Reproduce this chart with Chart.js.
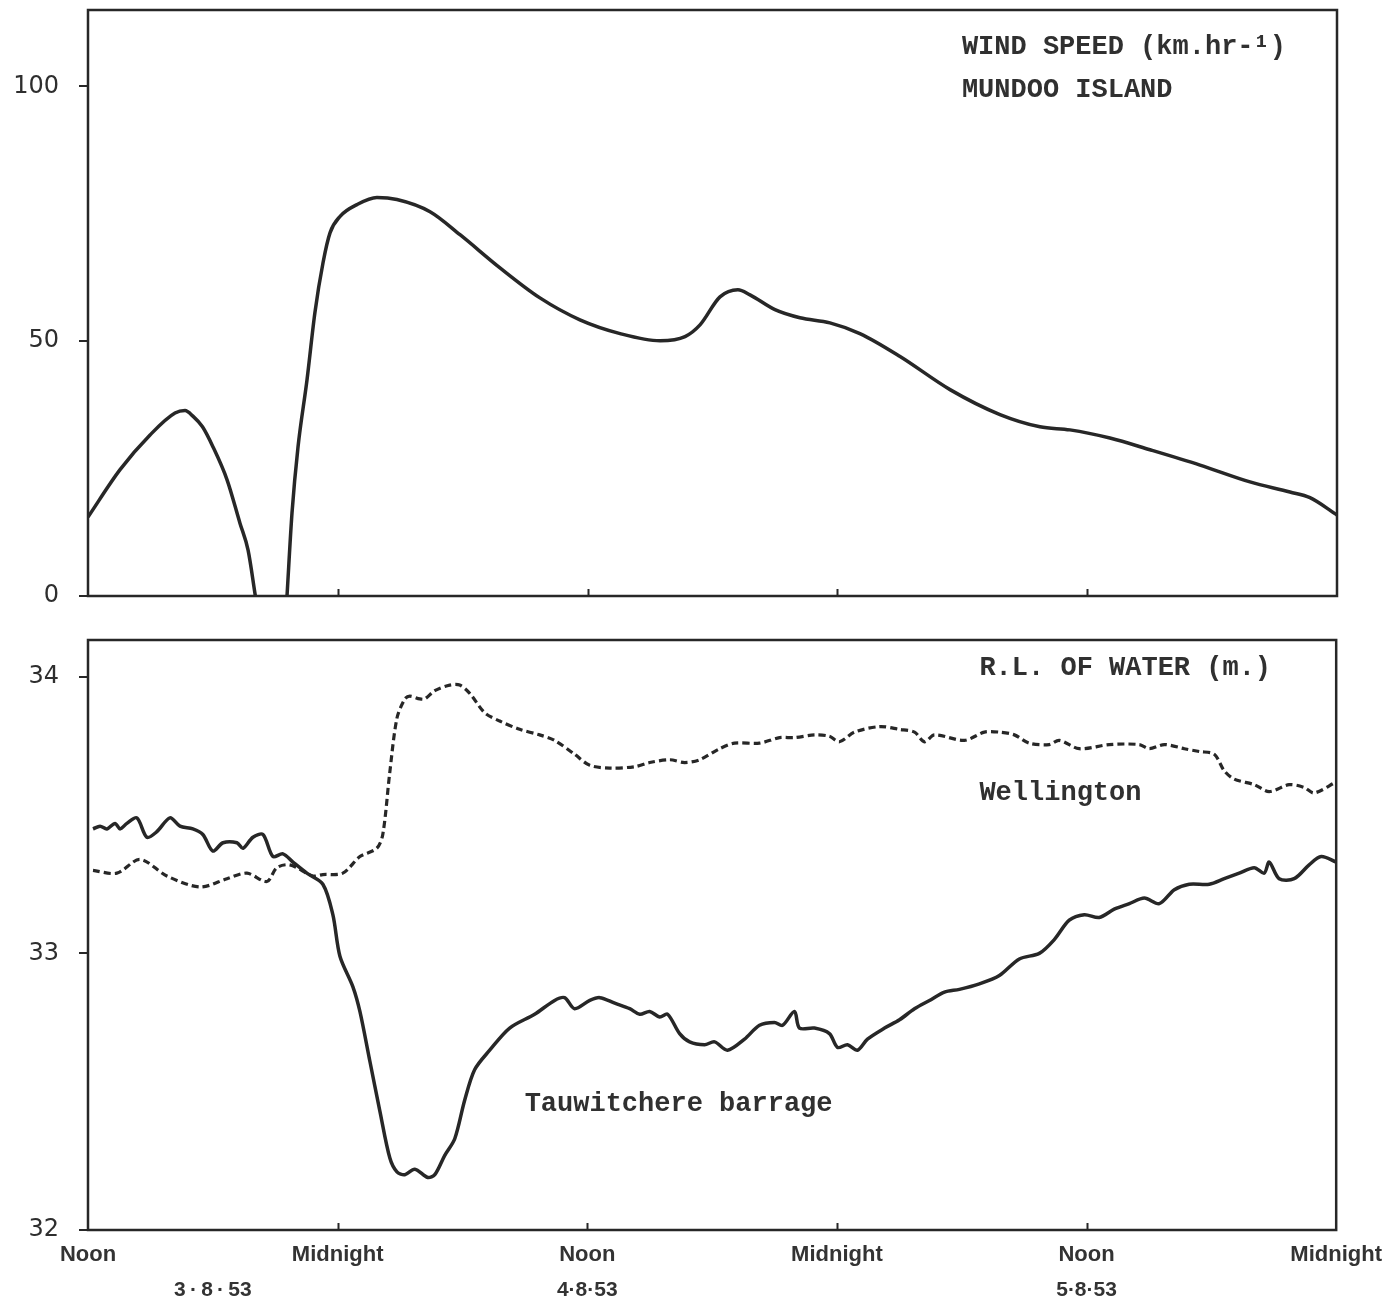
<!DOCTYPE html>
<html>
<head>
<meta charset="utf-8">
<title>Wind speed and water levels, 3–5 August 1953</title>
<script src="https://cdn.jsdelivr.net/npm/chart.js@4.4.1/dist/chart.umd.min.js"></script>
<style>
  html, body { margin: 0; padding: 0; background: #ffffff; }
  #wrap { position: relative; width: 1394px; height: 1304px; }
  canvas { position: absolute; left: 0; }
  #windCanvas { top: 0; }
  #levelCanvas { top: 620px; }
</style>
</head>
<body>
<div id="wrap">
  <canvas id="windCanvas" width="1394" height="620"></canvas>
  <canvas id="levelCanvas" width="1394" height="684"></canvas>
</div>
<script>
// Hours elapsed since noon on 3 August 1953
const timeTickHours = [0, 12, 24, 36, 48, 60];
const timeTickLabels = ['Noon', 'Midnight', 'Noon', 'Midnight', 'Noon', 'Midnight'];
const dateTickHours = [6, 24, 48];
const dateTickLabels = ['3\u2009·\u20098\u2009·\u200953', '4·8·53', '5·8·53'];

// Wind speed at Mundoo Island (km/hr); null marks the calm spell
const windHours = [0.0, 1.54, 2.98, 4.18, 4.66, 5.04, 5.50, 6.00, 6.68, 7.30, 7.69, 8.04, 8.8, 9.56, 9.80, 10.09, 10.52, 10.90, 11.29, 11.63, 12.11, 12.92, 13.88, 14.84, 16.43, 17.87, 19.79, 21.71, 23.63, 25.56, 27.48, 28.68, 29.40, 30.36, 31.22, 31.80, 33.00, 34.20, 35.64, 37.08, 39.01, 41.41, 43.81, 45.73, 47.17, 49.09, 51.02, 53.42, 55.82, 57.74, 58.70, 60.0];
const windSpeed = [15.5, 24.8, 31.6, 35.9, 36.4, 35.3, 33.2, 29.3, 22.8, 14.3, 9.0, 0, null, 0, 16.3, 29.3, 42.4, 55.6, 65.4, 71.3, 74.5, 76.8, 78.2, 77.8, 75.4, 70.9, 64.4, 58.5, 54.2, 51.5, 50.1, 50.9, 53.2, 58.7, 60.1, 59.1, 56.2, 54.6, 53.6, 51.5, 47.0, 40.5, 35.6, 33.2, 32.6, 31.0, 28.7, 25.7, 22.4, 20.4, 19.3, 15.9];
const windTicks = [0, 50, 100];

// Reduced level of water (m) at Tauwitchere barrage
const tauHours = [0.24, 0.58, 0.91, 1.30, 1.54, 1.87, 2.35, 2.83, 3.31, 3.94, 4.42, 5.04, 5.52, 6.00, 6.49, 7.16, 7.45, 7.93, 8.41, 8.89, 9.37, 9.85, 10.52, 11.29, 11.77, 12.11, 12.73, 13.07, 13.55, 14.03, 14.51, 14.85, 15.23, 15.71, 16.33, 16.67, 17.15, 17.63, 18.11, 18.59, 19.31, 20.27, 21.47, 22.43, 22.91, 23.39, 24.12, 24.60, 25.32, 26.04, 26.52, 27.00, 27.48, 27.86, 28.44, 28.92, 29.64, 30.12, 30.74, 31.56, 32.28, 33.00, 33.39, 33.96, 34.20, 34.92, 35.64, 36.03, 36.51, 36.99, 37.47, 38.29, 39.01, 39.73, 40.45, 41.17, 41.89, 42.85, 43.81, 44.77, 45.73, 46.45, 47.17, 47.89, 48.61, 49.33, 50.06, 50.78, 51.50, 52.22, 52.94, 53.90, 54.62, 55.34, 56.06, 56.54, 56.78, 57.26, 57.98, 58.70, 59.28, 60.00];
const tauLevel = [33.45, 33.46, 33.45, 33.47, 33.45, 33.47, 33.49, 33.42, 33.44, 33.49, 33.46, 33.45, 33.43, 33.37, 33.40, 33.40, 33.38, 33.42, 33.43, 33.35, 33.36, 33.33, 33.29, 33.25, 33.14, 32.99, 32.88, 32.79, 32.61, 32.43, 32.26, 32.21, 32.20, 32.22, 32.19, 32.20, 32.27, 32.33, 32.47, 32.58, 32.65, 32.73, 32.78, 32.83, 32.84, 32.80, 32.83, 32.84, 32.82, 32.80, 32.78, 32.79, 32.77, 32.78, 32.71, 32.68, 32.67, 32.68, 32.65, 32.69, 32.74, 32.75, 32.74, 32.79, 32.73, 32.73, 32.71, 32.66, 32.67, 32.65, 32.69, 32.73, 32.76, 32.80, 32.83, 32.86, 32.87, 32.89, 32.92, 32.98, 33.00, 33.05, 33.12, 33.14, 33.13, 33.16, 33.18, 33.20, 33.18, 33.23, 33.25, 33.25, 33.27, 33.29, 33.31, 33.29, 33.33, 33.27, 33.27, 33.32, 33.35, 33.33];

// Reduced level of water (m) at Wellington
const wellHours = [0.24, 1.39, 2.50, 3.79, 5.38, 6.68, 7.64, 8.60, 9.08, 9.70, 10.81, 11.29, 12.25, 13.07, 13.88, 14.17, 14.50, 14.85, 15.23, 15.47, 15.95, 16.19, 16.67, 17.39, 17.87, 18.35, 19.07, 19.79, 20.75, 21.71, 22.43, 23.39, 24.12, 25.08, 26.28, 27.00, 27.96, 28.68, 29.40, 30.36, 31.08, 32.28, 33.24, 33.96, 34.92, 35.64, 36.12, 36.85, 38.05, 39.01, 39.73, 40.21, 40.69, 42.13, 43.09, 43.81, 44.53, 45.25, 46.21, 46.69, 47.65, 49.09, 50.53, 51.02, 51.74, 52.70, 53.42, 54.14, 54.62, 55.10, 56.06, 56.78, 57.74, 58.46, 58.94, 60.00];
const wellLevel = [33.30, 33.29, 33.34, 33.28, 33.24, 33.27, 33.29, 33.26, 33.31, 33.32, 33.28, 33.285, 33.29, 33.35, 33.38, 33.43, 33.65, 33.85, 33.92, 33.93, 33.92, 33.92, 33.95, 33.97, 33.97, 33.94, 33.87, 33.84, 33.81, 33.79, 33.77, 33.72, 33.68, 33.67, 33.675, 33.69, 33.70, 33.69, 33.70, 33.74, 33.76, 33.76, 33.78, 33.78, 33.79, 33.785, 33.765, 33.80, 33.82, 33.81, 33.80, 33.765, 33.79, 33.77, 33.80, 33.80, 33.79, 33.76, 33.755, 33.77, 33.74, 33.755, 33.755, 33.74, 33.755, 33.74, 33.73, 33.72, 33.66, 33.63, 33.61, 33.585, 33.61, 33.60, 33.58, 33.62];
const levelTicks = [32, 33, 34];

const INK = '#272727';
const TYPE_FONT = 'bold 27px "Liberation Mono", "DejaVu Sans Mono", monospace';
const pairs = (xs, ys) => xs.map((x, i) => ({ x: x, y: ys[i] }));

// Draws the boxed frame, the small inward hour ticks and the typed captions
const framePlugin = {
  id: 'frame',
  afterDatasetsDraw(chart, args, opts) {
    const { ctx, chartArea: a, scales } = chart;
    ctx.save();
    ctx.strokeStyle = INK;
    ctx.lineWidth = 2.5;
    ctx.strokeRect(a.left, a.top, a.right - a.left, a.bottom - a.top);
    ctx.lineWidth = 2;
    ctx.beginPath();
    timeTickHours.slice(1, -1).forEach(h => {
      const px = Math.round(scales.x.getPixelForValue(h)) + 0.5;
      ctx.moveTo(px, a.bottom);
      ctx.lineTo(px, a.bottom - 7);
    });
    ctx.stroke();
    ctx.fillStyle = '#303030';
    ctx.font = TYPE_FONT;
    ctx.textAlign = 'left';
    ctx.textBaseline = 'middle';
    (opts.notes || []).forEach(n => {
      ctx.fillText(n.text, scales.x.getPixelForValue(n.x), scales.y.getPixelForValue(n.y));
    });
    ctx.restore();
  }
};

function yAxis(min, max, ticks) {
  return {
    type: 'linear',
    min: min,
    max: max,
    afterBuildTicks: s => { s.ticks = ticks.map(v => ({ value: v })); },
    // fixed axis width; tick labels may overhang the plot edges freely
    afterFit: s => { s.width = 88; s.paddingTop = 0; s.paddingBottom = 0; },
    border: { display: false },
    grid: { display: true, drawOnChartArea: false, drawTicks: true, tickLength: 9, color: INK, lineWidth: 2 },
    ticks: {
      padding: 20,
      color: '#2e2e2e',
      font: { family: '"DejaVu Sans", sans-serif', size: 24 }
    }
  };
}

const common = {
  responsive: false,
  devicePixelRatio: 1,
  animation: false,
  events: []
};

new Chart(document.getElementById('windCanvas'), {
  type: 'line',
  data: {
    datasets: [{
      label: 'Wind speed',
      data: pairs(windHours, windSpeed),
      borderColor: INK,
      borderWidth: 3.5,
      pointRadius: 0,
      tension: 0.4,
      cubicInterpolationMode: 'monotone',
      spanGaps: false
    }]
  },
  options: Object.assign({}, common, {
    layout: { autoPadding: false, padding: { top: 10, right: 57, bottom: 24, left: 0 } },
    plugins: {
      legend: { display: false },
      tooltip: { enabled: false },
      frame: {
        notes: [
          { text: 'WIND SPEED (km.hr-¹)', x: 41.98, y: 107.7 },
          { text: 'MUNDOO ISLAND', x: 41.98, y: 99.2 }
        ]
      }
    },
    scales: {
      x: { type: 'linear', min: 0, max: 60, display: false },
      y: yAxis(0, 115, windTicks)
    }
  }),
  plugins: [framePlugin]
});

new Chart(document.getElementById('levelCanvas'), {
  type: 'line',
  data: {
    datasets: [{
      label: 'Tauwitchere barrage',
      data: pairs(tauHours, tauLevel),
      borderColor: INK,
      borderWidth: 3.5,
      pointRadius: 0,
      tension: 0.3
    }, {
      label: 'Wellington',
      data: pairs(wellHours, wellLevel),
      borderColor: INK,
      borderWidth: 3.2,
      borderDash: [7, 4],
      pointRadius: 0,
      tension: 0.3
    }]
  },
  options: Object.assign({}, common, {
    layout: { autoPadding: false, padding: { top: 20, right: 57, bottom: 0, left: 0 } },
    plugins: {
      legend: { display: false },
      tooltip: { enabled: false },
      frame: {
        notes: [
          { text: 'R.L. OF WATER (m.)', x: 42.85, y: 34.032 },
          { text: 'Wellington', x: 42.85, y: 33.578 },
          { text: 'Tauwitchere barrage', x: 20.99, y: 32.455 }
        ]
      }
    },
    scales: {
      x: {
        type: 'linear', min: 0, max: 60, position: 'bottom', weight: 0,
        afterBuildTicks: s => { s.ticks = timeTickHours.map(v => ({ value: v })); },
        afterFit: s => { s.height = 44; },
        border: { display: false },
        grid: { display: false, drawTicks: false },
        ticks: {
          autoSkip: false, maxRotation: 0, padding: 12, color: '#333333',
          font: { family: '"Liberation Sans", Arial, sans-serif', size: 22, weight: 'bold' },
          callback: (v, i) => timeTickLabels[i]
        }
      },
      x2: {
        type: 'linear', min: 0, max: 60, position: 'bottom', weight: 1,
        afterBuildTicks: s => { s.ticks = dateTickHours.map(v => ({ value: v })); },
        afterFit: s => { s.height = 30; },
        border: { display: false },
        grid: { display: false, drawTicks: false },
        ticks: {
          autoSkip: false, maxRotation: 0, padding: 4, color: '#333333',
          font: { family: '"Liberation Sans", Arial, sans-serif', size: 21, weight: 'bold' },
          callback: (v, i) => dateTickLabels[i]
        }
      },
      y: yAxis(32, 34.133, levelTicks)
    }
  }),
  plugins: [framePlugin]
});
</script>
</body>
</html>
